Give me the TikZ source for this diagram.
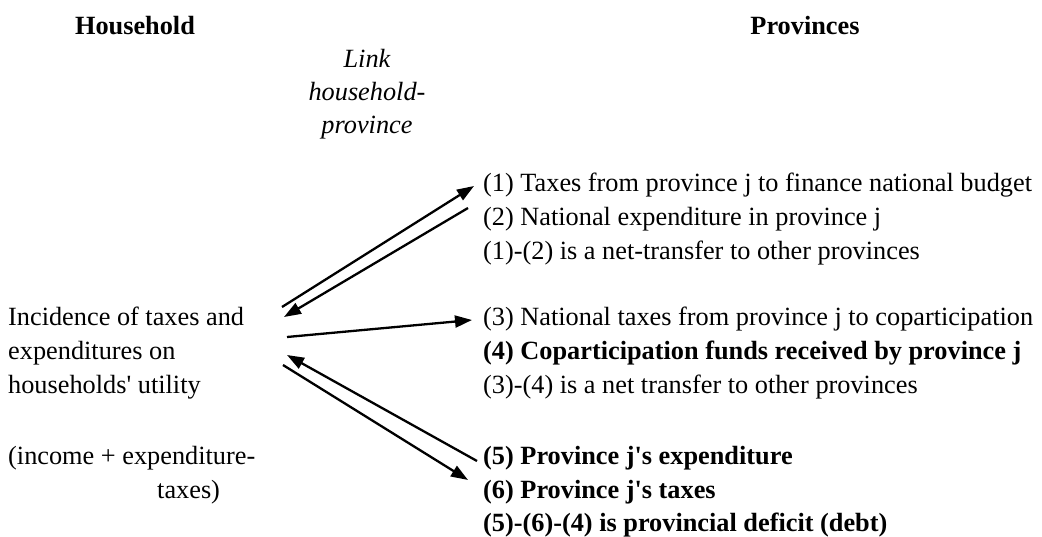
\documentclass[tikz,border=0pt]{standalone}
\usepackage{fontspec}
\setmainfont{Liberation Serif}
\usetikzlibrary{arrows.meta}
\begin{document}
\begin{tikzpicture}[x=1pt,y=-1pt,
  txt/.style={inner sep=0pt, anchor=west, font=\fontsize{26.3}{34}\selectfont, text height=18pt, text depth=6pt},
  btxt/.style={txt, font=\fontsize{26.3}{34}\selectfont\bfseries},
  hd/.style={txt, anchor=center, font=\fontsize{26.3}{34}\selectfont\bfseries},
  itx/.style={txt, anchor=center, font=\fontsize{26.3}{34}\selectfont\itshape},
  arr/.style={line width=2.3pt, -{Triangle[length=17pt,width=12pt]}}]
\useasboundingbox (0,0) rectangle (1042,537);
% headings
\node[hd] (hh) at (135,29) {Household};
\node[hd] (pv) at (805,29) {Provinces};
\node[itx] (l1) at (367,62) {Link};
\node[itx] (l2) at (367,95) {household-};
\node[itx] (l3) at (367,128) {province};
% left text
\node[txt] (h1) at (8,320) {Incidence of taxes and};
\node[txt] (h2) at (8,354) {expenditures on};
\node[txt] (h3) at (8,388) {households\textquotesingle{} utility};
\node[txt] (h4) at (8,458) {(income + expenditure-};
\node[txt] (h5) at (157,492) {taxes)};
% right text
\node[txt] (p1) at (483,186) {(1) Taxes from province j to finance national budget};
\node[txt] (p2) at (483,220) {(2) National expenditure in province j};
\node[txt] (p12) at (483,254) {(1)-(2) is a net-transfer to other provinces};
\node[txt] (p3) at (483,320) {(3) National taxes from province j to coparticipation};
\node[btxt] (p4) at (483,354) {(4) Coparticipation funds received by province j};
\node[txt] (p34) at (483,388) {(3)-(4) is a net transfer to other provinces};
\node[btxt] (p5) at (483,458) {(5) Province j\textquotesingle{}s expenditure};
\node[btxt] (p6) at (483,492) {(6) Province j\textquotesingle{}s taxes};
\node[btxt] (p564) at (483,525) {(5)-(6)-(4) is provincial deficit (debt)};
% arrow end points
\coordinate (a1s) at (282,307);
\coordinate (a2e) at (284,317);
\coordinate (a3s) at (287,337);
\coordinate (a5e) at (287,355);
\coordinate (a6s) at (283,365);
\draw[arr] (a1s) -- ([xshift=-9pt]p1.west);
\draw[arr] ([xshift=-15pt,yshift=12pt]p2.west) -- (a2e);
\draw[arr] (a3s) -- ([xshift=-11pt]p3.west);
\draw[arr] ([xshift=-6pt,yshift=-3pt]p5.west) -- (a5e);
\draw[arr] (a6s) -- ([xshift=-15pt,yshift=12pt]p6.west);
\end{tikzpicture}
\end{document}
